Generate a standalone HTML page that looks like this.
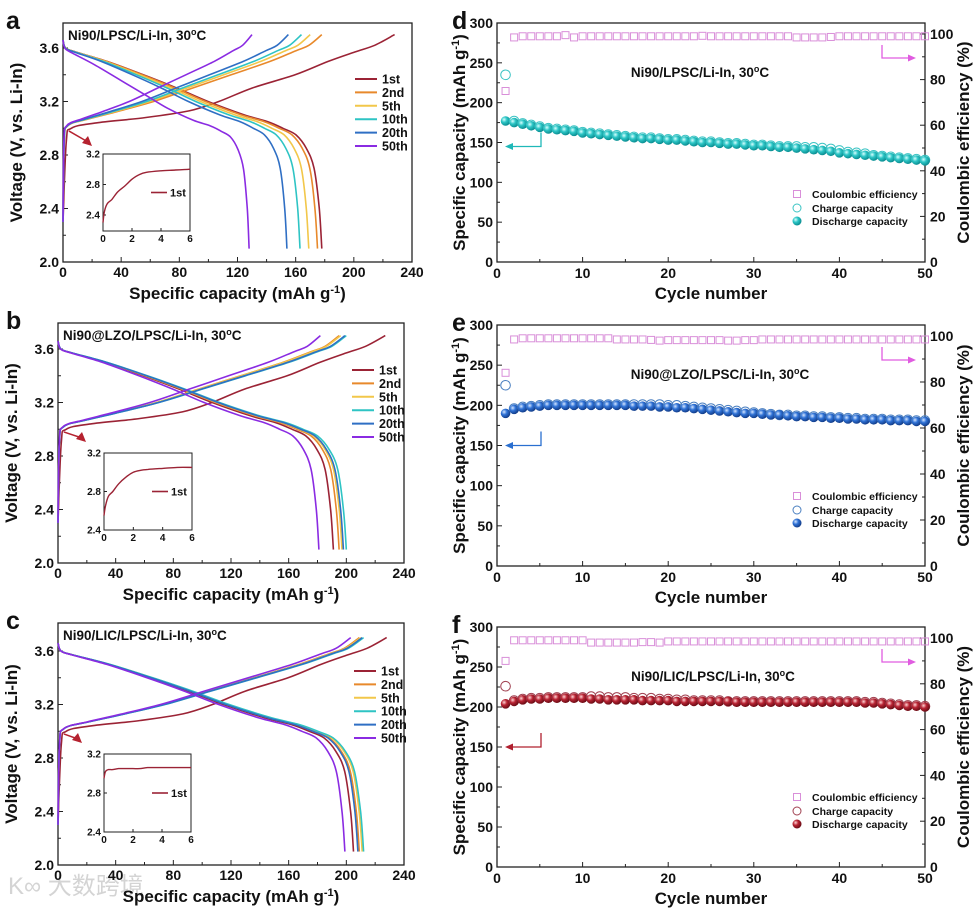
<!DOCTYPE html>
<html><head><meta charset="utf-8">
<style>
html,body{margin:0;padding:0;background:#fff;}
svg{display:block;font-family:"Liberation Sans","Noto Sans CJK SC",sans-serif;}
.t{font-weight:bold;fill:#111;}
</style></head>
<body>
<svg id="fig" width="975" height="909" viewBox="0 0 975 909" xmlns="http://www.w3.org/2000/svg">
<defs>
<radialGradient id="gTeal" cx="35%" cy="35%" r="65%"><stop offset="0" stop-color="#d8ffff"/><stop offset="0.45" stop-color="#2cc6c6"/><stop offset="1" stop-color="#0c8f93"/></radialGradient>
<radialGradient id="gBlue" cx="35%" cy="35%" r="65%"><stop offset="0" stop-color="#d5e6ff"/><stop offset="0.45" stop-color="#2f72d6"/><stop offset="1" stop-color="#143f8c"/></radialGradient>
<radialGradient id="gRed" cx="35%" cy="35%" r="65%"><stop offset="0" stop-color="#ffd5d5"/><stop offset="0.45" stop-color="#b92434"/><stop offset="1" stop-color="#6d0d16"/></radialGradient>
</defs>
<text x="8" y="894" font-size="24" fill="#d4d4d4">K∞ 大数跨境</text>
</svg>
<script>
// ---------- voltage profile data ----------
const dischargeFrac=[0,0.01,0.05,0.17,0.31,0.44,0.56,0.7,0.79,0.85,0.9,0.94,0.97,0.99,1];
const dischargeV=[3.66,3.6,3.57,3.5,3.4,3.3,3.2,3.1,3.05,3.0,2.95,2.85,2.7,2.4,2.1];
const chargeFrac=[0,0.005,0.02,0.1,0.2,0.35,0.5,0.65,0.8,0.9,0.95,1];
const chargeV=[2.3,2.9,3.02,3.07,3.12,3.2,3.3,3.4,3.5,3.58,3.62,3.7];
const firstChargeFrac=[0,0.01,0.025,0.1,0.25,0.38,0.47,0.57,0.7,0.8,0.88,0.94,1];
const firstChargeV=[2.3,2.9,3.0,3.04,3.08,3.13,3.2,3.3,3.4,3.5,3.57,3.62,3.7];
const cycleLabels=["1st","2nd","5th","10th","20th","50th"];
const chargeCapA=[228,178,170,164,155,130];
const dischCapA=[178,175,169,163,154,128];
const chargeCapB=[227,195,196,200,199,182];
const dischCapB=[191,195,197,200,198,181];
const chargeCapC=[228,209,210,212,211,203];
const dischCapC=[205,209,211,212,208,199];
const insetX=[0,0.1,0.3,0.6,1,1.5,2,2.5,3,4,5,6];
const insetVA=[2.3,2.45,2.55,2.6,2.7,2.78,2.87,2.93,2.96,2.98,2.99,3.0];
const insetVB=[2.55,2.65,2.75,2.8,2.88,2.95,3.0,3.02,3.03,3.04,3.05,3.05];
const insetVC=[2.95,3.02,3.04,3.04,3.05,3.05,3.05,3.05,3.06,3.06,3.06,3.06];
const xTicksV=[0,40,80,120,160,200,240];
const yTicksV=[2.0,2.4,2.8,3.2,3.6];
// ---------- cycling data ----------
const cycleTicks=[0,10,20,30,40,50];
const capTicks=[0,50,100,150,200,250,300];
const ceTicks=[0,20,40,60,80,100];
const dischD=[177,175,173,171,169,167,166,165,164,162,161,160,159,158,157,156,155,155,154,153,153,152,151,150,150,149,148,148,147,146,146,145,144,144,143,142,141,140,139,137,136,135,134,133,132,131,130,129,128,127];
const chargeD=[235,177,174,172,170,168,167,166,165,163,162,161,160,159,158,157,156,156,155,154,154,153,152,151,151,150,149,149,148,147,147,146,145,145,145,144,144,143,142,140,138,137,136,134,133,132,131,130,129,128];
const ceD=[75,98.5,99,99,99,99,99,99.5,98.5,99,99,99,99,99,99,99,99,99,99,99,99,99,99,99.2,99,99,99,99,99,99,99,99,99,99,98.5,98.5,98.5,98.5,98.7,99,99,99,99,99,99,99,99,99,99,99];
const dischE=[190,195,197,198,199,200,200,200,200,200,200,200,200,200,200,199,199,199,198,198,197,197,196,195,194,193,192,191,190,190,189,188,188,187,186,186,185,185,184,184,183,183,182,182,182,181,181,181,180,180];
const chargeE=[225,196,198,199,200,201,201,201,201,201,201,201,201,201,201,201,201,201,201,200,200,199,198,197,196,195,194,193,192,191,190,189,188,188,187,187,186,186,185,185,184,184,183,183,183,182,182,182,181,181];
const ceE=[84,98.5,99,99,99,99,99,99,99,99,99,99,99,98.5,98.5,98.5,98.5,98.3,98,98.2,98.2,98.2,98.2,98.2,98.2,98.2,98,98,98.2,98.2,98.5,98.5,98.5,98.5,98.5,98.5,98.5,98.5,98.5,98.5,98.5,98.5,98.5,98.5,98.5,98.5,98.5,98.5,98.5,98.5];
const dischF=[204,207,209,210,210,211,211,211,211,211,210,210,209,209,209,209,208,208,208,208,207,207,207,207,207,207,207,206,206,206,206,206,206,206,206,206,206,206,206,206,206,206,205,205,204,203,202,201,201,200];
const chargeF=[226,208,210,211,211,212,212,212,212,212,213,213,212,212,212,211,211,211,210,210,209,209,208,208,208,208,207,207,207,207,207,207,207,207,207,207,207,207,207,207,207,207,206,206,205,204,203,202,202,201];
const ceF=[90,99,99,99,99,99,99,99,99,99,98,98,98,98,98,98,98.2,98.2,98,98.5,98.5,98.5,98.5,98.5,98.5,98.5,98.5,98.5,98.5,98.5,98.5,98.5,98.5,98.5,98.5,98.5,98.5,98.5,98.5,98.5,98.5,98.5,98.5,98.5,98.5,98.5,98.5,98.5,98.5,98.5];

const NS="http://www.w3.org/2000/svg";
const svg=document.getElementById('fig');
function mk(tag,attrs,parent){const e=document.createElementNS(NS,tag);for(const k in attrs)e.setAttribute(k,attrs[k]);(parent||svg).appendChild(e);return e;}
function txt(x,y,s,size,anchor,parent,extra){const e=mk('text',Object.assign({x:x,y:y,'font-size':size,'text-anchor':anchor||'start',class:'t'},extra||{}),parent);e.textContent=s;return e;}
const cols=["#9b2335","#e8892b","#f2c74a","#2ec4c4","#2f6fc4","#8a2be2"];
function smooth(pts){
  let d='M'+pts[0][0].toFixed(1)+','+pts[0][1].toFixed(1);
  for(let i=0;i<pts.length-1;i++){
    const p0=pts[Math.max(0,i-1)],p1=pts[i],p2=pts[i+1],p3=pts[Math.min(pts.length-1,i+2)];
    const c1x=p1[0]+(p2[0]-p0[0])/6,c1y=p1[1]+(p2[1]-p0[1])/6;
    const c2x=p2[0]-(p3[0]-p1[0])/6,c2y=p2[1]-(p3[1]-p1[1])/6;
    d+=` C${c1x.toFixed(1)},${c1y.toFixed(1)} ${c2x.toFixed(1)},${c2y.toFixed(1)} ${p2[0].toFixed(1)},${p2[1].toFixed(1)}`;
  }
  return d;
}

function voltagePanel(c){
  const g=mk('g',{});
  
  
  const sx=v=>c.x0+(v/240)*(c.x1-c.x0);
  const k=(c.y20-c.y36)/1.6;
  const sy=v=>c.y20-(v-2.0)*k;
  const box=mk('rect',{x:c.x0,y:c.top,width:c.x1-c.x0,height:c.y20-c.top,fill:'none',stroke:'#222','stroke-width':1.3},g);
  
  
  xTicksV.forEach(v=>{mk('line',{x1:sx(v),x2:sx(v),y1:c.y20,y2:c.y20-5,stroke:'#222'},g);txt(sx(v),c.y20+15,String(v),14,'middle',g);});
  for(let v=20;v<240;v+=40)mk('line',{x1:sx(v),x2:sx(v),y1:c.y20,y2:c.y20-3,stroke:'#222'},g);
  yTicksV.forEach(v=>{mk('line',{x1:c.x0,x2:c.x0+5,y1:sy(v),y2:sy(v),stroke:'#222'},g);txt(c.x0-4,sy(v)+5,v.toFixed(1),14,'end',g);});
  for(let v=2.2;v<3.8;v+=0.4)mk('line',{x1:c.x0,x2:c.x0+3,y1:sy(v),y2:sy(v),stroke:'#222'},g);
  for(let i=0;i<6;i++){
    let pc=[],pd=[];
    const cf=i===0?firstChargeFrac:chargeFrac, cv=i===0?firstChargeV:chargeV;
    for(let j=0;j<cf.length;j++)pc.push([sx(cf[j]*c.chg[i]),sy(cv[j])]);
    for(let j=0;j<dischargeFrac.length;j++)pd.push([sx(dischargeFrac[j]*c.dis[i]),sy(dischargeV[j]-(i===5&&c.name==='panel-a'?0.05*Math.sin(Math.PI*dischargeFrac[j]):0))]);
    const l1=mk('path',{d:smooth(pc),fill:'none',stroke:cols[i],'stroke-width':1.6,'stroke-linejoin':'round'},g);
    
    
    const l2=mk('path',{d:smooth(pd),fill:'none',stroke:cols[i],'stroke-width':1.6,'stroke-linejoin':'round'},g);
    
    
    const ly=c.legY+i*13.4;
    const ll=mk('line',{x1:c.legX,x2:c.legX+22,y1:ly,y2:ly,stroke:cols[i],'stroke-width':2},g);
    
    
    const lt=txt(c.legX+27,ly+4.5,cycleLabels[i],12.5,'start',g);
    
    
  }
  const tt=txt(c.x0+5,c.top+17,c.title,13.5,'start',g);
  
  
  tt.innerHTML=c.title+', 30<tspan dy="-5" font-size="9">o</tspan><tspan dy="5">C</tspan>';
  // inset
  const ix0=c.ix0,ix1=c.ix1,iy0=c.iy0,iy1=c.iy1;
  const isx=v=>ix0+v/6*(ix1-ix0);
  const isy=v=>iy1-(v-c.imin)/(3.2-c.imin)*(iy1-iy0);
  const ib=mk('rect',{x:ix0,y:iy0,width:ix1-ix0,height:iy1-iy0,fill:'#fff',stroke:'#222','stroke-width':1},g);
  
  
  [0,2,4,6].forEach(v=>{mk('line',{x1:isx(v),x2:isx(v),y1:iy1,y2:iy1-3,stroke:'#222'},g);txt(isx(v),iy1+11,String(v),10,'middle',g);});
  [2.4,2.8,3.2].forEach(v=>{mk('line',{x1:ix0,x2:ix0+3,y1:isy(v),y2:isy(v),stroke:'#222'},g);txt(ix0-3,isy(v)+3.5,v.toFixed(1),10,'end',g);});
  const ip=insetX.map((x,j)=>[isx(x),isy(c.inset[j])]);
  const il=mk('path',{d:smooth(ip),fill:'none',stroke:cols[0],'stroke-width':1.4},g);
  
  
  const iyL=iy0+(iy1-iy0)*0.5;
  mk('line',{x1:ix0+48,x2:ix0+64,y1:iyL,y2:iyL,stroke:cols[0],'stroke-width':1.6},g);
  txt(ix0+67,iyL+4,'1st',11,'start',g);
  // arrow
  const ax=sx(4),ay=sy(2.98);
  const ar=mk('line',{x1:ax,x2:c.arX-4,y1:ay,y2:c.arY-4,stroke:'#b5222f','stroke-width':1.5},g);
  
  
  mk('polygon',{points:`${c.arX},${c.arY} ${c.arX-10},${c.arY-3} ${c.arX-4},${c.arY-10}`,fill:'#b5222f'},g);
  // labels
  const xl=txt((c.x0+c.x1)/2,c.y20+37,'',17,'middle',g);
  xl.innerHTML='Specific capacity (mAh g<tspan dy="-6" font-size="11">-1</tspan><tspan dy="6">)</tspan>';
  
  
  const yl=txt(0,0,'Voltage (V, vs. Li-In)',17,'middle',g,{transform:`translate(${c.x0-41},${(c.top+c.y20)/2}) rotate(-90)`});
  
  
  const pl=txt(6,c.top+6,c.letter,25,'start',g);
  
  
}
voltagePanel({name:'panel-a',letter:'a',title:'Ni90/LPSC/Li-In',x0:63,x1:412,top:23,y20:262,y36:48,chg:chargeCapA,dis:dischCapA,legX:355,legY:79,ix0:103,ix1:190,iy0:154,iy1:231,imin:2.19,inset:insetVA,arX:92,arY:146});
voltagePanel({name:'panel-b',letter:'b',title:'Ni90@LZO/LPSC/Li-In',x0:58,x1:404,top:323,y20:563,y36:349,chg:chargeCapB,dis:dischCapB,legX:352,legY:370,ix0:104,ix1:192,iy0:453,iy1:530,imin:2.4,inset:insetVB,arX:86,arY:442});
voltagePanel({name:'panel-c',letter:'c',title:'Ni90/LIC/LPSC/Li-In',x0:58,x1:404,top:623,y20:865,y36:651,chg:chargeCapC,dis:dischCapC,legX:354,legY:671,ix0:104,ix1:191,iy0:754,iy1:832,imin:2.4,inset:insetVC,arX:82,arY:743});

function cyclePanel(c){
  const g=mk('g',{});
  
  
  const x0=497,x1=925;
  const sx=v=>x0+v/50*(x1-x0);
  const syL=v=>c.bot-v/300*(c.bot-c.top);
  const ceK=(c.bot-c.y100)/100;
  const syR=v=>c.bot-v*ceK;
  const box=mk('rect',{x:x0,y:c.top,width:x1-x0,height:c.bot-c.top,fill:'none',stroke:'#222','stroke-width':1.3},g);
  
  
  cycleTicks.forEach(v=>{mk('line',{x1:sx(v),x2:sx(v),y1:c.bot,y2:c.bot-5,stroke:'#222'},g);txt(sx(v),c.bot+16,String(v),14,'middle',g);});
  for(let v=5;v<50;v+=10)mk('line',{x1:sx(v),x2:sx(v),y1:c.bot,y2:c.bot-3,stroke:'#222'},g);
  capTicks.forEach(v=>{mk('line',{x1:x0,x2:x0+5,y1:syL(v),y2:syL(v),stroke:'#222'},g);txt(x0-4,syL(v)+5,String(v),14,'end',g);});
  for(let v=25;v<300;v+=50)mk('line',{x1:x0,x2:x0+3,y1:syL(v),y2:syL(v),stroke:'#222'},g);
  ceTicks.forEach(v=>{mk('line',{x1:x1,x2:x1-5,y1:syR(v),y2:syR(v),stroke:'#222'},g);txt(x1+5,syR(v)+5,String(v),14,'start',g);});
  for(let v=10;v<=100;v+=20)mk('line',{x1:x1,x2:x1-3,y1:syR(v),y2:syR(v),stroke:'#222'},g);
  for(let i=0;i<50;i++){
    const cx=sx(i+1);
    const sq=mk('rect',{x:cx-3.5,y:syR(c.ce[i])-3.5,width:7,height:7,fill:'none',stroke:'#d98fd9','stroke-width':1},g);
    
    
    const oc=mk('circle',{cx:cx,cy:syL(c.chg[i]),r:4.8,fill:'none',stroke:c.open,'stroke-width':1},g);
    
    
    const fc=mk('circle',{cx:cx,cy:syL(c.dis[i]),r:4.8,fill:`url(#${c.grad})`},g);
    
    
  }
  const ax=541, ay=syL(c.arrowCap);
  mk('polyline',{points:`${ax},${ay-14} ${ax},${ay} ${x0+11},${ay}`,fill:'none',stroke:c.arrow,'stroke-width':1.3},g);
  mk('polygon',{points:`${x0+8},${ay} ${x0+16},${ay-3.5} ${x0+16},${ay+3.5}`,fill:c.arrow},g);
  const rx=882, ry=c.top+35;
  mk('polyline',{points:`${rx},${c.top+22} ${rx},${ry} ${x1-12},${ry}`,fill:'none',stroke:'#e05ce0','stroke-width':1.3},g);
  mk('polygon',{points:`${x1-9},${ry} ${x1-17},${ry-3.5} ${x1-17},${ry+3.5}`,fill:'#e05ce0'},g);
  const lx=797;
  const l1=mk('rect',{x:lx-3.5,y:c.legY-3.5,width:7,height:7,fill:'none',stroke:'#d98fd9'},g);
   
  mk('circle',{cx:lx,cy:c.legY+14,r:4,fill:'none',stroke:c.open},g);
  mk('circle',{cx:lx,cy:c.legY+27,r:4.5,fill:`url(#${c.grad})`},g);
  txt(lx+15,c.legY+4,'Coulombic efficiency',10.5,'start',g);
  txt(lx+15,c.legY+18,'Charge capacity',10.5,'start',g);
  txt(lx+15,c.legY+31,'Discharge capacity',10.5,'start',g);
  const tt=txt(c.titleX,c.titleY,'',13.5,'middle',g);
  tt.innerHTML=c.title+', 30<tspan dy="-5" font-size="9">o</tspan><tspan dy="5">C</tspan>';
   
  const xl=txt((x0+x1)/2,c.bot+37,'Cycle number',17,'middle',g);
   
  const yl=txt(0,0,'',17,'middle',g,{transform:`translate(${x0-32},${(c.top+c.bot)/2}) rotate(-90)`});
  yl.innerHTML='Specific capacity (mAh g<tspan dy="-6" font-size="11">-1</tspan><tspan dy="6">)</tspan>';
   
  const yr=txt(0,0,'Coulombic efficiency (%)',17,'middle',g,{transform:`translate(${x1+44},${(c.top+c.bot)/2}) rotate(-90)`});
   
  const pl=txt(452,c.top+6,c.letter,25,'start',g);
   
}
cyclePanel({name:'panel-d',letter:'d',title:'Ni90/LPSC/Li-In',top:23,bot:262,y100:34,dis:dischD,chg:chargeD,ce:ceD,open:'#3cc4c4',grad:'gTeal',arrow:'#1fb8b8',arrowCap:145,legY:194,titleX:700,titleY:77});
cyclePanel({name:'panel-e',letter:'e',title:'Ni90@LZO/LPSC/Li-In',top:325,bot:566,y100:336,dis:dischE,chg:chargeE,ce:ceE,open:'#4a7fc0',grad:'gBlue',arrow:'#2a6fd0',arrowCap:150,legY:496,titleX:720,titleY:379});
cyclePanel({name:'panel-f',letter:'f',title:'Ni90/LIC/LPSC/Li-In',top:627,bot:867,y100:638,dis:dischF,chg:chargeF,ce:ceF,open:'#a04050',grad:'gRed',arrow:'#b0202f',arrowCap:150,legY:797,titleX:713,titleY:681});
</script>
</body></html>
